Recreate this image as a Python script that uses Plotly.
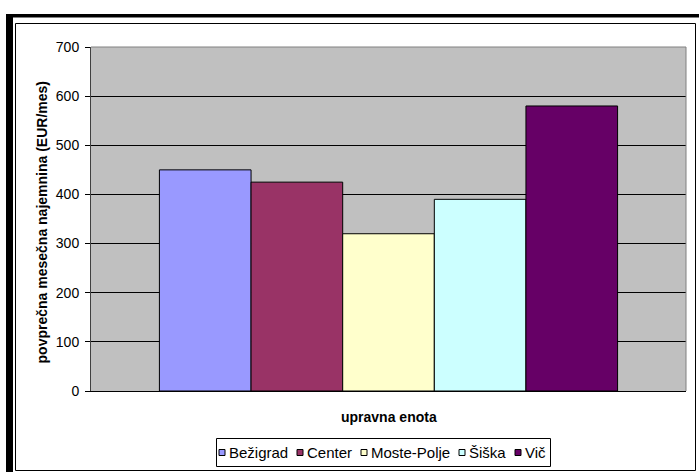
import plotly.graph_objects as go

# Average monthly rent by administrative unit
units = ["Bežigrad", "Center", "Moste-Polje", "Šiška", "Vič"]
rent = [450, 425, 320, 390, 580]
colors = ["#9999FF", "#993366", "#FFFFCC", "#CCFFFF", "#660066"]
y_ticks = [0, 100, 200, 300, 400, 500, 600, 700]

W, H = 699, 472
ML, MR, MT, MB = 91, 13, 47, 81
PW, PH = W - ML - MR, H - MT - MB
FONT = "Arial, Liberation Sans, sans-serif"


def px(x):
    return (x - ML) / PW


def py(y):
    return (H - MB - y) / PH


fig = go.Figure()
for name, val, col in zip(units, rent, colors):
    fig.add_trace(go.Bar(
        x=[""], y=[val], name=name,
        marker=dict(color=col, line=dict(color="black", width=1)),
        showlegend=False,
    ))

shapes = [
    # frame around the whole chart
    dict(type="rect", xref="paper", yref="paper", x0=px(6), x1=px(13), y0=py(14), y1=py(H),
         fillcolor="black", line=dict(width=0), layer="above"),
    dict(type="rect", xref="paper", yref="paper", x0=px(6), x1=px(W), y0=py(14), y1=py(17.5),
         fillcolor="black", line=dict(width=0), layer="above"),
    dict(type="rect", xref="paper", yref="paper", x0=px(15.5), x1=px(695.5), y0=py(23.5), y1=py(470.5),
         line=dict(color="black", width=1), layer="above"),
    # plot area border (top and right)
    dict(type="path", xref="paper", yref="paper",
         path="M 0 1 L 1 1 L 1 0", line=dict(color="#808080", width=1), layer="above"),
    # legend box
    dict(type="rect", xref="paper", yref="paper", x0=px(216.5), x1=px(550.5), y0=py(438.5), y1=py(466.5),
         line=dict(color="black", width=1), fillcolor="white", layer="above"),
]

annotations = [
    dict(text="<b>povprečna mesečna najemnina (EUR/mes)</b>", textangle=-90,
         xref="paper", yref="paper", x=px(42), y=0.49, xanchor="center", yanchor="middle",
         showarrow=False, font=dict(family=FONT, size=14, color="black")),
    dict(text="<b>upravna enota</b>", xref="paper", yref="paper", x=0.5, y=py(417),
         xanchor="center", yanchor="middle", showarrow=False,
         font=dict(family=FONT, size=14, color="black")),
]

# legend entries: small outlined square followed by the label
legend_x = [219, 297, 361, 459, 515]
for name, col, lx in zip(units, colors, legend_x):
    shapes.append(dict(type="rect", xref="paper", yref="paper",
                       x0=px(lx), x1=px(lx + 6), y0=py(455.5), y1=py(449.5),
                       fillcolor=col, line=dict(color="black", width=1), layer="above"))
    annotations.append(dict(text=name, xref="paper", yref="paper", x=px(lx + 8), y=py(452.5),
                            xanchor="left", yanchor="middle", showarrow=False,
                            font=dict(family=FONT, size=15, color="black")))

fig.update_layout(
    width=W, height=H,
    margin=dict(l=ML, r=MR, t=MT, b=MB, autoexpand=False),
    paper_bgcolor="white", plot_bgcolor="#C0C0C0",
    barmode="group", bargap=0.23, bargroupgap=0,
    showlegend=False,
    shapes=shapes, annotations=annotations,
    xaxis=dict(showticklabels=False, ticks="", showgrid=False, zeroline=False,
               showline=True, linecolor="black", linewidth=1),
    yaxis=dict(range=[0, 700], tickvals=y_ticks, ticks="outside", ticklen=5,
               tickcolor="black", tickwidth=1, showgrid=True, gridcolor="black",
               gridwidth=1, zeroline=False, showline=True, linecolor="#404040",
               linewidth=1, ticklabelstandoff=3,
               tickfont=dict(family=FONT, size=14, color="black")),
)

fig.write_html("out.html")
